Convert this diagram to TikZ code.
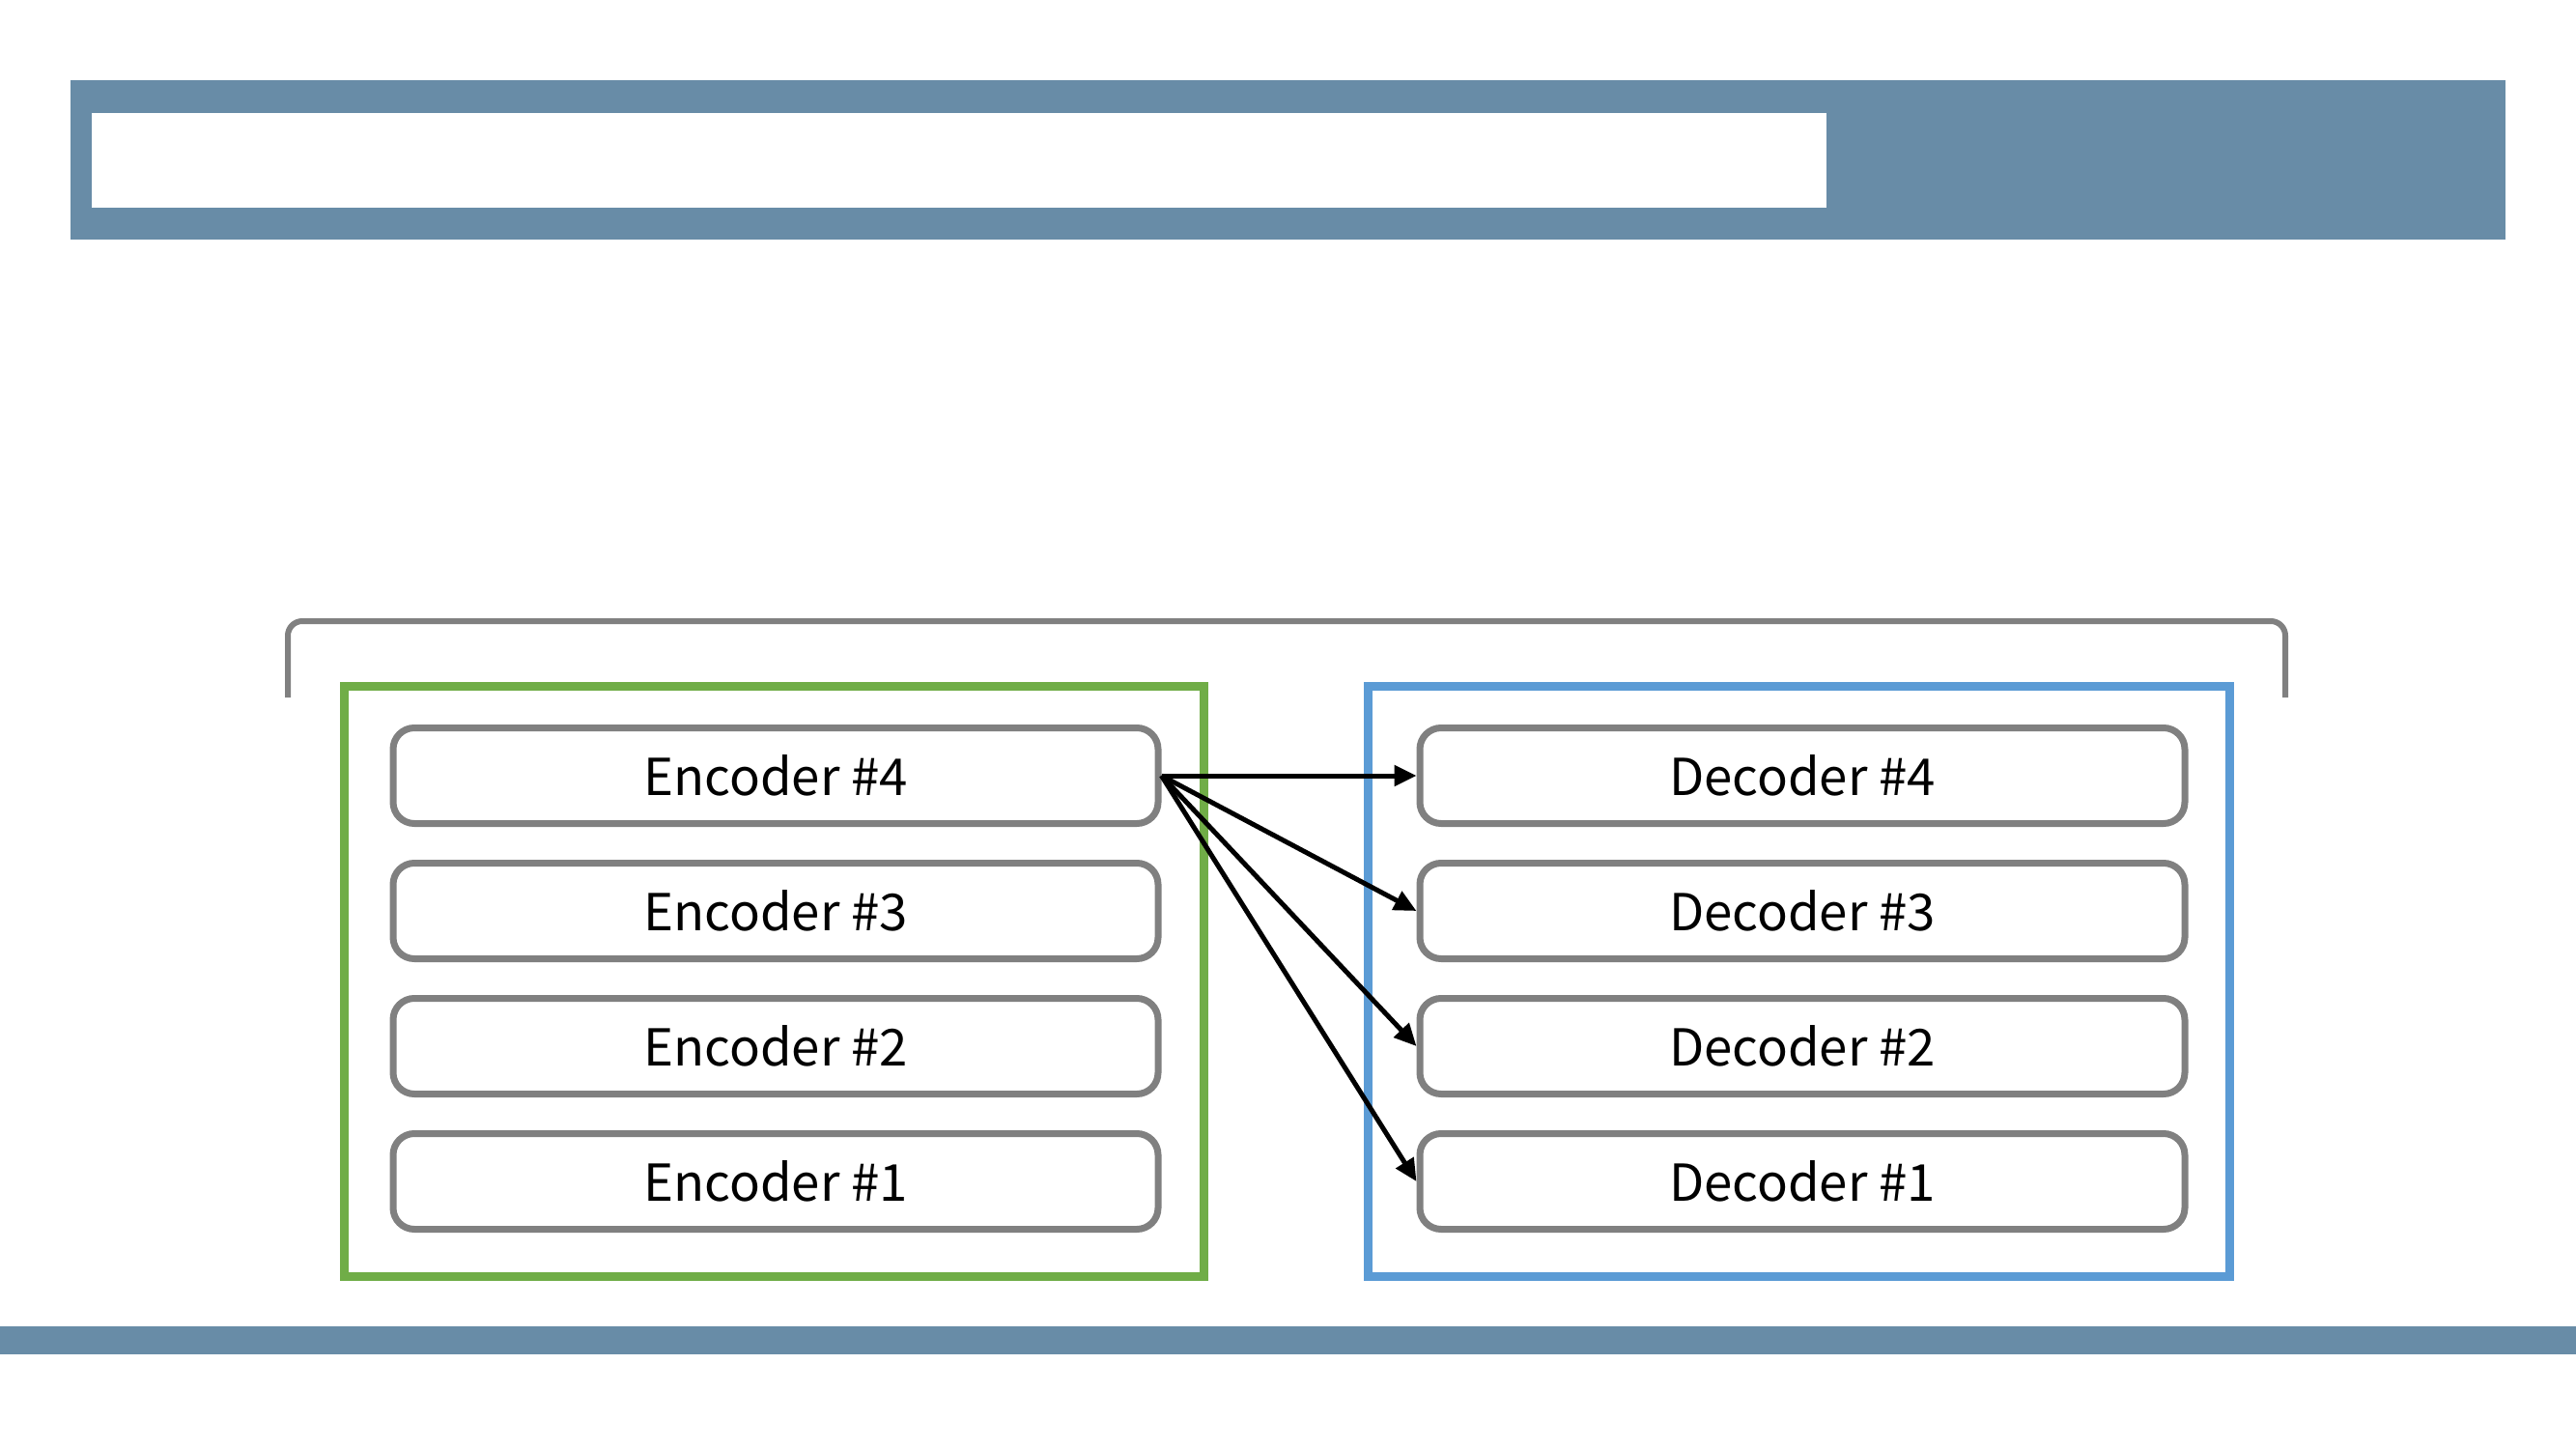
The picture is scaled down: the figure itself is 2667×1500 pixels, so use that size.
\documentclass[tikz,border=0pt]{standalone}
\usepackage{fontspec}
\setmainfont{Noto Sans CJK KR}
\usetikzlibrary{positioning,arrows.meta}
\definecolor{bannerblue}{HTML}{688CA7}
\definecolor{encgreen}{HTML}{70AD47}
\definecolor{decblue}{HTML}{5B9BD5}
\definecolor{layergray}{HTML}{808080}
\begin{document}
\begin{tikzpicture}[x=0.1mm,y=-0.1mm,
    layer/.style={draw=layergray,line width=0.7mm,rounded corners=2.2mm,
      minimum width=79.2mm,minimum height=9.9mm,inner sep=0pt,
      font=\fontsize{15}{18}\selectfont},
    link/.style={-{Triangle[length=2.3mm,width=2.1mm]},line width=0.5mm},
    node distance=3.4mm]
    \useasboundingbox (0,0) rectangle (2667,1500);
    % banners
    \fill[bannerblue] (73,83) rectangle (2594,248);
    \fill[white] (95,117) rectangle (1891,215);
    \fill[bannerblue] (0,1373) rectangle (2667,1402);
    % bracket
    \draw[layergray,line width=0.6mm,rounded corners=1.5mm] (298,722) |- (2366,643) -- (2366,722);
    % frames
    \draw[encgreen,line width=0.9mm] (356,710) rectangle (1246,1321);
    \draw[decblue,line width=0.9mm] (1416,710) rectangle (2308,1321);
    % encoder stack
    \node[layer] (enc4) at (803,803) {Encoder \#4};
    \node[layer,below=of enc4] (enc3) {Encoder \#3};
    \node[layer,below=of enc3] (enc2) {Encoder \#2};
    \node[layer,below=of enc2] (enc1) {Encoder \#1};
    % decoder stack
    \node[layer,right=26.4mm of enc4] (dec4) {Decoder \#4};
    \node[layer,below=of dec4] (dec3) {Decoder \#3};
    \node[layer,below=of dec3] (dec2) {Decoder \#2};
    \node[layer,below=of dec2] (dec1) {Decoder \#1};
    % links
    \foreach \i in {1,...,4}
      \draw[link] (enc4.east) -- (dec\i.west);
\end{tikzpicture}
\end{document}
